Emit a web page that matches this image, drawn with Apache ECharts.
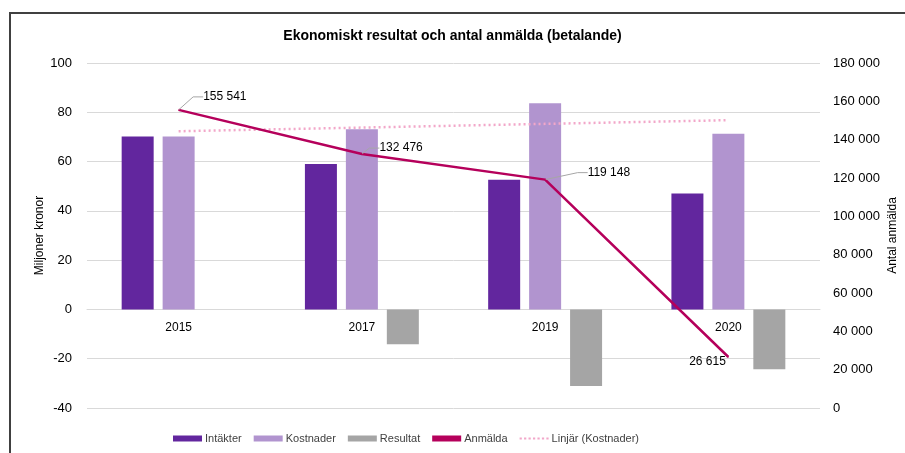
<!DOCTYPE html>
<html>
<head>
    <meta charset="utf-8">
    <title>ECharts</title>
    <script src="https://cdn.jsdelivr.net/npm/echarts@6/dist/echarts.min.js"></script>
</head>
<body style="margin:0">
    <div id="main" style="width: 905px;height:453px;"></div>
    <script type="text/javascript">
        var years = ['2015', '2017', '2019', '2020'];
        var intakter = [70.2, 59.0, 52.6, 47.0];
        var kostnader = [70.2, 73.1, 83.7, 71.3];
        var resultat = [0, -14.1, -31.1, -24.3];
        var anmalda = [155541, 132476, 119148, 26615];
        // trendlinje
        var linjar = [72.3, 73.8, 75.3, 76.8];

        var leftTicks = { min: -40, max: 100, interval: 20 };
        var rightTicks = { min: 0, max: 180000, interval: 20000 };

        // etikettplacering för Anmälda
        var labelMoves = [
            { dx: 19, dy: -13 },
            { dx: 12, dy: -6 },
            { dx: 37, dy: -7 },
            { dx: 0, dy: 5 }
        ];

        var font = "'Liberation Sans', Arial, sans-serif";

        function spaced(v) {
            return String(v).replace(/\B(?=(\d{3})+(?!\d))/g, ' ');
        }

        var myChart = echarts.init(document.getElementById('main'));

        var option = {
            textStyle: { fontFamily: font },
            animation: false,
            title: {
                text: 'Ekonomiskt resultat och antal anmälda (betalande)',
                left: 'center',
                top: 24,
                textStyle: {
                    fontFamily: font,
                    fontSize: 14,
                    fontWeight: 'bold',
                    color: '#000'
                }
            },
            graphic: [{
                type: 'rect',
                shape: { x: 10, y: 13, width: 1000, height: 600 },
                style: { fill: 'none', stroke: '#404040', lineWidth: 2 },
                silent: true
            }],
            legend: {
                top: 428,
                left: 168,
                itemWidth: 29,
                itemHeight: 6,
                itemGap: 12,
                textStyle: { fontSize: 11, color: '#404040', fontFamily: font, padding: [0, 0, 0, -2] },
                data: [
                    { name: 'Intäkter', icon: 'rect' },
                    { name: 'Kostnader', icon: 'rect' },
                    { name: 'Resultat', icon: 'rect' },
                    { name: 'Anmälda', icon: 'rect', itemStyle: { color: '#B5005B' } },
                    { name: 'Linjär (Kostnader)', icon: 'path://M0,0h2v2h-2zM4,0h2v2h-2zM8,0h2v2h-2zM12,0h2v2h-2zM16,0h2v2h-2zM20,0h2v2h-2zM24,0h2v2h-2z', itemStyle: { color: '#F2A7C9' } }
                ]
            },
            grid: {
                left: 87,
                right: 85,
                top: 63,
                bottom: 45,
                containLabel: false,
                outerBoundsMode: 'none'
            },
            xAxis: {
                type: 'category',
                data: years,
                offset: -98.6,
                axisTick: { show: false },
                axisLine: { onZero: false, lineStyle: { color: '#d9d9d9' } },
                axisLabel: { fontSize: 12, color: '#000', margin: 12 }
            },
            yAxis: [
                {
                    type: 'value',
                    min: leftTicks.min,
                    max: leftTicks.max,
                    interval: leftTicks.interval,
                    name: 'Miljoner kronor',
                    nameLocation: 'middle',
                    nameGap: 41,
                    nameMoveOverlap: false,
                    nameTextStyle: { fontSize: 12, color: '#000' },
                    axisLabel: { fontSize: 13, color: '#000', margin: 15 },
                    splitLine: { lineStyle: { color: '#d9d9d9' } },
                    axisLine: { show: false },
                    axisTick: { show: false }
                },
                {
                    type: 'value',
                    min: rightTicks.min,
                    max: rightTicks.max,
                    interval: rightTicks.interval,
                    name: 'Antal anmälda',
                    nameLocation: 'middle',
                    nameGap: 67,
                    nameMoveOverlap: false,
                    nameTextStyle: { fontSize: 12, color: '#000' },
                    axisLabel: {
                        fontSize: 13, color: '#000', margin: 13,
                        formatter: function (v) { return spaced(v); }
                    },
                    splitLine: { show: false },
                    axisLine: { show: false },
                    axisTick: { show: false }
                }
            ],
            series: [
                {
                    name: 'Intäkter',
                    type: 'bar',
                    barWidth: 32,
                    barGap: '28%',
                    itemStyle: { color: '#62269E' },
                    data: intakter
                },
                {
                    name: 'Kostnader',
                    type: 'bar',
                    barWidth: 32,
                    barGap: '28%',
                    itemStyle: { color: '#B194CF' },
                    data: kostnader
                },
                {
                    name: 'Resultat',
                    type: 'bar',
                    barWidth: 32,
                    barGap: '28%',
                    itemStyle: { color: '#A5A5A5' },
                    data: resultat
                },
                {
                    name: 'Linjär (Kostnader)',
                    type: 'line',
                    symbol: 'none',
                    z: 3,
                    lineStyle: { color: '#F2A7C9', width: 2.5, type: [2, 3] },
                    itemStyle: { color: '#F2A7C9' },
                    data: linjar
                },
                {
                    name: 'Anmälda',
                    type: 'line',
                    yAxisIndex: 1,
                    symbol: 'circle',
                    symbolSize: 1,
                    showSymbol: true,
                    z: 4,
                    lineStyle: { color: '#B5005B', width: 2.5 },
                    itemStyle: { color: '#B5005B' },
                    label: {
                        show: true,
                        position: 'right',
                        fontSize: 12,
                        color: '#000',
                        formatter: function (p) { return spaced(p.value); }
                    },
                    labelLine: {
                        show: true,
                        length2: 10,
                        lineStyle: { color: '#a6a6a6', width: 1 }
                    },
                    labelLayout: function (p) {
                        return labelMoves[p.dataIndex];
                    },
                    data: anmalda.map(function (v, i) {
                        if (i === anmalda.length - 1) {
                            return { value: v, label: { position: 'left', distance: 2 }, labelLine: { show: false } };
                        }
                        return v;
                    })
                }
            ]
        };

        myChart.setOption(option);
    </script>
</body>
</html>
